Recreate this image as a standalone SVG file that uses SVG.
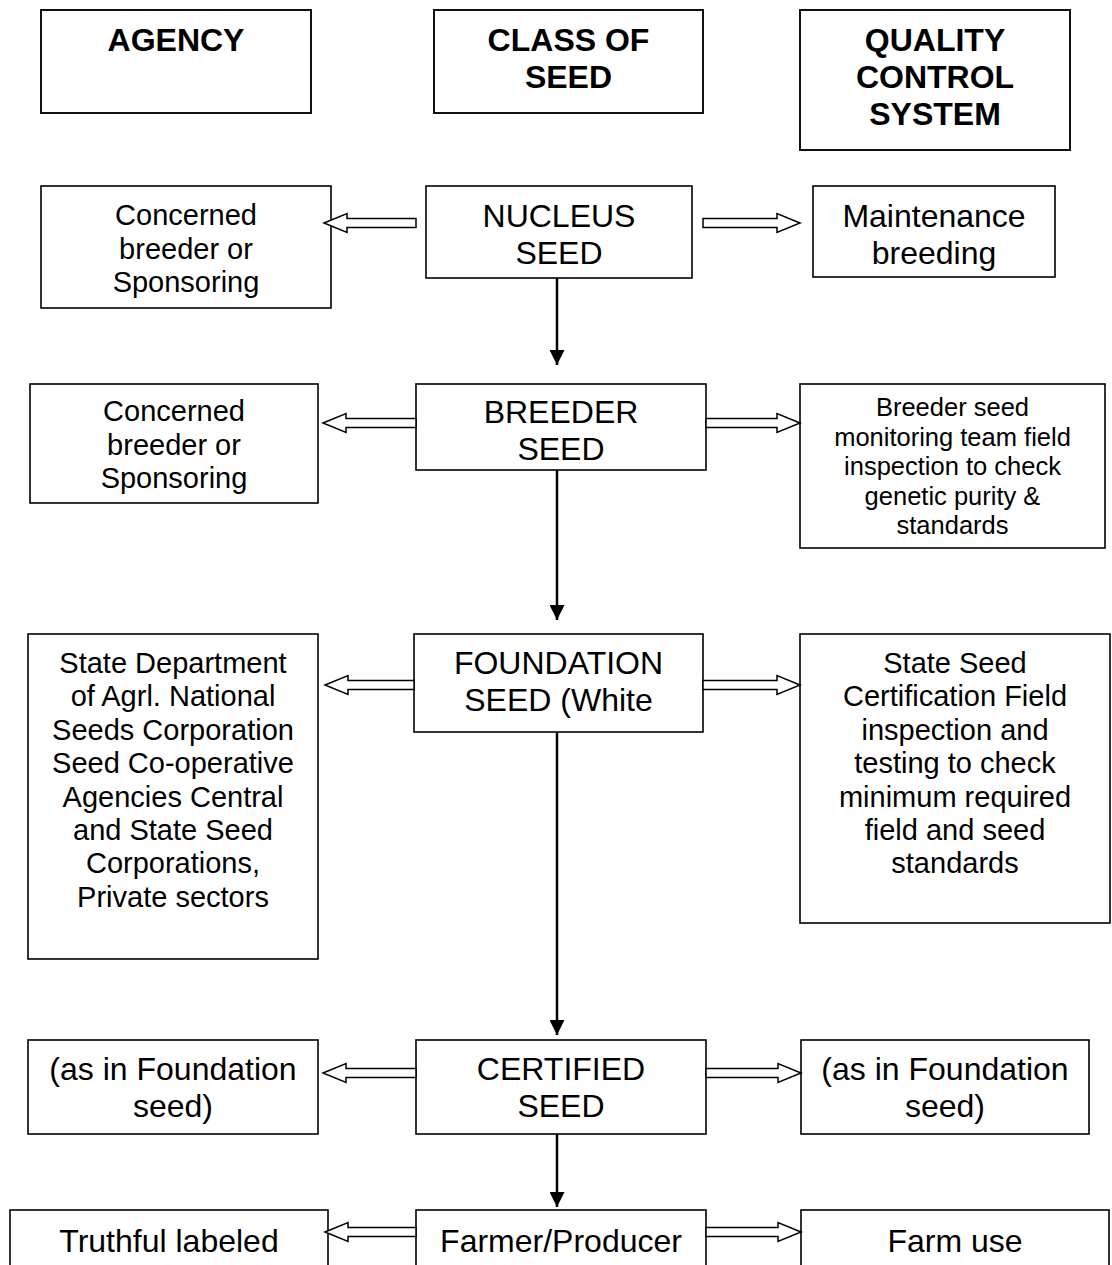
<svg xmlns="http://www.w3.org/2000/svg" width="1112" height="1265" viewBox="0 0 1112 1265">
  <defs>
    <style>
      .box { fill: #fff; stroke: #000; stroke-width: 1.6; }
      .hbox { fill: #fff; stroke: #111; stroke-width: 2; }
      .hd { font-family: "Liberation Sans", Arial, sans-serif; font-size: 32px; font-weight: bold; text-anchor: middle; fill: #000; }
      .big { font-family: "Liberation Sans", Arial, sans-serif; font-size: 32px; text-anchor: middle; fill: #000; }
      .mid { font-family: "Liberation Sans", Arial, sans-serif; font-size: 29px; text-anchor: middle; fill: #000; }
      .sm { font-family: "Liberation Sans", Arial, sans-serif; font-size: 25.5px; text-anchor: middle; fill: #000; }
      .blk { fill: #fff; stroke: #000; stroke-width: 1.5; stroke-linejoin: miter; }
      .flow { stroke: #000; stroke-width: 2.5; fill: none; }
    </style>
    <marker id="tri" markerWidth="15" markerHeight="15" refX="15" refY="7.5" orient="auto" markerUnits="userSpaceOnUse">
      <path d="M0,0 L15,7.5 L0,15 Z" fill="#000"/>
    </marker>
  </defs>
  <rect width="1112" height="1265" fill="#fff"/>

  <!-- column headings -->
  <g id="head-agency">
    <rect class="hbox" x="41" y="10" width="270" height="103"/>
    <text class="hd" x="176" y="51">AGENCY</text>
  </g>
  <g id="head-class">
    <rect class="hbox" x="434" y="10" width="269" height="103"/>
    <text class="hd" x="568.5" y="51">CLASS OF</text>
    <text class="hd" x="568.5" y="88">SEED</text>
  </g>
  <g id="head-quality">
    <rect class="hbox" x="800" y="10" width="270" height="140"/>
    <text class="hd" x="935" y="51">QUALITY</text>
    <text class="hd" x="935" y="88">CONTROL</text>
    <text class="hd" x="935" y="125">SYSTEM</text>
  </g>

  <!-- nucleus row -->
  <g id="agency-nucleus">
    <rect class="box" x="41" y="186" width="290" height="122"/>
    <text class="mid" x="186" y="225">Concerned</text>
    <text class="mid" x="186" y="258.5">breeder or</text>
    <text class="mid" x="186" y="292">Sponsoring</text>
  </g>
  <g id="nucleus">
    <rect class="box" x="426" y="186" width="266" height="92"/>
    <text class="big" x="559" y="227">NUCLEUS</text>
    <text class="big" x="559" y="264">SEED</text>
  </g>
  <g id="qc-nucleus">
    <rect class="box" x="813" y="186" width="242" height="91"/>
    <text class="big" x="934" y="227">Maintenance</text>
    <text class="big" x="934" y="264">breeding</text>
  </g>

  <!-- breeder row -->
  <g id="agency-breeder">
    <rect class="box" x="30" y="384" width="288" height="119"/>
    <text class="mid" x="174" y="421">Concerned</text>
    <text class="mid" x="174" y="454.5">breeder or</text>
    <text class="mid" x="174" y="488">Sponsoring</text>
  </g>
  <g id="breeder">
    <rect class="box" x="416" y="384" width="290" height="86"/>
    <text class="big" x="561" y="423">BREEDER</text>
    <text class="big" x="561" y="460">SEED</text>
  </g>
  <g id="qc-breeder">
    <rect class="box" x="800" y="384" width="305" height="164"/>
    <text class="sm" x="952.5" y="416">Breeder seed</text>
    <text class="sm" x="952.5" y="445.5">monitoring team field</text>
    <text class="sm" x="952.5" y="475">inspection to check</text>
    <text class="sm" x="952.5" y="504.5">genetic purity &amp;</text>
    <text class="sm" x="952.5" y="534">standards</text>
  </g>

  <!-- foundation row -->
  <g id="agency-foundation">
    <rect class="box" x="28" y="634" width="290" height="325"/>
    <text class="mid" x="173" y="673">State Department</text>
    <text class="mid" x="173" y="706.4">of Agrl. National</text>
    <text class="mid" x="173" y="739.8">Seeds Corporation</text>
    <text class="mid" x="173" y="773.2">Seed Co-operative</text>
    <text class="mid" x="173" y="806.6">Agencies Central</text>
    <text class="mid" x="173" y="840">and State Seed</text>
    <text class="mid" x="173" y="873.4">Corporations,</text>
    <text class="mid" x="173" y="906.8">Private sectors</text>
  </g>
  <g id="foundation">
    <rect class="box" x="414" y="634" width="289" height="98"/>
    <text class="big" x="558.5" y="674">FOUNDATION</text>
    <text class="big" x="558.5" y="711">SEED (White</text>
  </g>
  <g id="qc-foundation">
    <rect class="box" x="800" y="634" width="310" height="289"/>
    <text class="mid" x="955" y="673">State Seed</text>
    <text class="mid" x="955" y="706.4">Certification Field</text>
    <text class="mid" x="955" y="739.8">inspection and</text>
    <text class="mid" x="955" y="773.2">testing to check</text>
    <text class="mid" x="955" y="806.6">minimum required</text>
    <text class="mid" x="955" y="840">field and seed</text>
    <text class="mid" x="955" y="873.4">standards</text>
  </g>

  <!-- certified row -->
  <g id="agency-certified">
    <rect class="box" x="28" y="1040" width="290" height="94"/>
    <text class="big" x="173" y="1080">(as in Foundation</text>
    <text class="big" x="173" y="1117">seed)</text>
  </g>
  <g id="certified">
    <rect class="box" x="416" y="1040" width="290" height="94"/>
    <text class="big" x="561" y="1080">CERTIFIED</text>
    <text class="big" x="561" y="1117">SEED</text>
  </g>
  <g id="qc-certified">
    <rect class="box" x="801" y="1040" width="288" height="94"/>
    <text class="big" x="945" y="1080">(as in Foundation</text>
    <text class="big" x="945" y="1117">seed)</text>
  </g>

  <!-- farmer row (runs off the bottom edge) -->
  <g id="agency-farmer">
    <rect class="box" x="10" y="1210" width="318" height="80"/>
    <text class="big" x="169" y="1252">Truthful labeled</text>
  </g>
  <g id="farmer">
    <rect class="box" x="416" y="1210" width="290" height="80"/>
    <text class="big" x="561" y="1252">Farmer/Producer</text>
  </g>
  <g id="qc-farmer">
    <rect class="box" x="801" y="1210" width="308" height="80"/>
    <text class="big" x="955" y="1252">Farm use</text>
  </g>

  <!-- connectors -->
  <g id="connectors">
    <!-- downward flow through the seed classes -->
    <line class="flow" x1="557" y1="278" x2="557" y2="365" marker-end="url(#tri)"/>
    <line class="flow" x1="557" y1="470" x2="557" y2="620" marker-end="url(#tri)"/>
    <line class="flow" x1="557" y1="732" x2="557" y2="1035" marker-end="url(#tri)"/>
    <line class="flow" x1="557" y1="1134" x2="557" y2="1207" marker-end="url(#tri)"/>

    <!-- hollow block arrows to agency (left) and quality control (right) -->
    <path class="blk" d="M324,223 L347,213.5 L347,218.5 L416,218.5 L416,227.5 L347,227.5 L347,232.5 Z"/>
    <path class="blk" d="M800,223 L777,213.5 L777,218.5 L703,218.5 L703,227.5 L777,227.5 L777,232.5 Z"/>

    <path class="blk" d="M323,423 L346,413.5 L346,418.5 L416,418.5 L416,427.5 L346,427.5 L346,432.5 Z"/>
    <path class="blk" d="M800,423 L777,413.5 L777,418.5 L706,418.5 L706,427.5 L777,427.5 L777,432.5 Z"/>

    <path class="blk" d="M325,685 L348,675.5 L348,680.5 L414,680.5 L414,689.5 L348,689.5 L348,694.5 Z"/>
    <path class="blk" d="M800,685 L777,675.5 L777,680.5 L703,680.5 L703,689.5 L777,689.5 L777,694.5 Z"/>

    <path class="blk" d="M323,1073 L346,1063.5 L346,1068.5 L416,1068.5 L416,1077.5 L346,1077.5 L346,1082.5 Z"/>
    <path class="blk" d="M801,1073 L778,1063.5 L778,1068.5 L706,1068.5 L706,1077.5 L778,1077.5 L778,1082.5 Z"/>

    <path class="blk" d="M325,1232 L348,1222.5 L348,1227.5 L416,1227.5 L416,1236.5 L348,1236.5 L348,1241.5 Z"/>
    <path class="blk" d="M801,1232 L778,1222.5 L778,1227.5 L706,1227.5 L706,1236.5 L778,1236.5 L778,1241.5 Z"/>
  </g>
</svg>
